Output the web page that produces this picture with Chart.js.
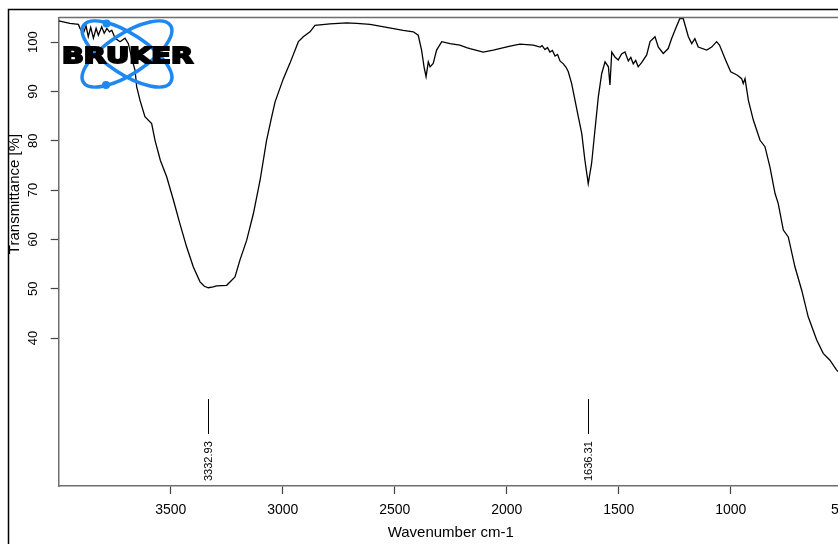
<!DOCTYPE html>
<html>
<head>
<meta charset="utf-8">
<script src="https://cdn.jsdelivr.net/npm/chart.js@4.4.1/dist/chart.umd.min.js"></script>
<style>
  html, body { margin: 0; padding: 0; background: #fff; overflow: hidden; }
  #wrap { width: 880px; height: 544px; }
</style>
</head>
<body>
<div id="wrap"><canvas id="myChart" width="880" height="544"></canvas></div>
<script>
// spectrum
const wavenumbers = [
  4000, 3950, 3912, 3905, 3890, 3878, 3868, 3857, 3845, 3833, 3823, 3808, 3797, 3785, 3773, 3763,
  3748, 3726, 3704, 3689, 3674, 3659, 3652, 3637, 3615, 3585, 3570, 3546, 3518, 3488, 3459, 3429,
  3399, 3369, 3350, 3332, 3310, 3295, 3250, 3213, 3191, 3161, 3131, 3101, 3072, 3049, 3034, 2997,
  2968, 2930, 2908, 2878, 2856, 2789, 2714, 2670, 2610, 2536, 2462, 2417, 2395, 2380, 2369, 2360,
  2350, 2342, 2328, 2313, 2290, 2253, 2209, 2179, 2164, 2105, 2060, 1985, 1941, 1881, 1851, 1842,
  1829, 1818, 1807, 1796, 1784, 1773, 1762, 1747, 1735, 1725, 1710, 1695, 1680, 1665, 1651, 1636,
  1621, 1606, 1591, 1576, 1561, 1546, 1539, 1531, 1517, 1502, 1487, 1472, 1457, 1446, 1435, 1424,
  1413, 1397, 1375, 1360, 1338, 1323, 1301, 1279, 1264, 1249, 1227, 1212, 1189, 1174, 1160, 1145,
  1107, 1085, 1063, 1050, 1022, 1000, 970, 951, 944, 936, 921, 899, 869, 847, 825, 802,
  788, 765, 743, 713, 683, 654, 616, 587, 557, 527, 515
];
const transmittance = [
  104.3, 103.8, 103.6, 102.8, 101.8, 103.3, 101.1, 103.0, 100.8, 102.8, 101.4, 103.1, 101.8, 102.8, 102.1, 102.4,
  100.8, 100.1, 100.8, 99.7, 96.7, 94.3, 91.0, 88.2, 84.9, 83.5, 80.1, 76.0, 72.7, 68.0, 63.2, 58.5,
  54.4, 51.4, 50.5, 50.2, 50.4, 50.6, 50.7, 52.4, 55.8, 59.8, 65.2, 72.0, 80.1, 84.9, 87.9, 92.6,
  95.7, 100.1, 101.1, 102.1, 103.4, 103.7, 103.9, 103.8, 103.6, 103.0, 102.4, 102.1, 101.4, 98.4, 95.0, 93.0,
  96.0, 95.0, 95.7, 98.4, 100.1, 99.7, 99.4, 98.9, 98.7, 98.0, 98.4, 99.2, 99.6, 99.4, 99.0, 99.3,
  98.5, 98.9, 98.0, 98.3, 97.2, 97.5, 96.2, 95.6, 94.9, 94.0, 91.6, 88.2, 84.8, 81.5, 76.1, 71.3,
  75.4, 82.2, 88.9, 93.6, 96.0, 95.0, 91.3, 98.0, 97.0, 96.4, 97.6, 98.0, 96.2, 96.9, 95.6, 96.3,
  95.0, 95.9, 97.4, 100.1, 101.1, 99.0, 97.7, 98.7, 100.7, 102.4, 104.8, 104.8, 101.1, 99.7, 100.7, 99.0,
  98.4, 99.0, 100.1, 99.4, 96.3, 94.0, 93.3, 92.6, 91.6, 92.6, 88.2, 84.2, 80.1, 78.8, 74.7, 69.3,
  67.3, 61.9, 60.5, 54.4, 49.7, 44.3, 39.6, 36.9, 35.5, 33.5, 33.0
];
const xTicks = [3500, 3000, 2500, 2000, 1500, 1000, 500];
const yTicks = [40, 50, 60, 70, 80, 90, 100];
const peakPositions = [3332.93, 1636.31];
const peakLabels = ["3332.93", "1636.31"];

const points = wavenumbers.map((w, i) => ({ x: w, y: transmittance[i] }));
const FONT = "'Liberation Sans', Arial, sans-serif";

// frame, box top, y title, peak marks, logo
const extras = {
  id: 'extras',
  afterDraw(chart) {
    const c = chart.ctx;
    const area = chart.chartArea;
    const xs = chart.scales.x;
    c.save();
    // plot box top line
    c.strokeStyle = '#6e6e6e';
    c.lineWidth = 1.5;
    c.beginPath();
    c.moveTo(area.left, area.top);
    c.lineTo(chart.width, area.top);
    c.stroke();

    // y axis title, clipped by the frame
    c.save();
    c.beginPath();
    c.rect(8, 0, 100, chart.height);
    c.clip();
    c.translate(18.5, 194);
    c.rotate(-Math.PI / 2);
    c.fillStyle = '#000';
    c.font = "15px " + FONT;
    c.textAlign = 'center';
    c.textBaseline = 'alphabetic';
    c.fillText('Transmittance [%]', 0, 0);
    c.restore();

    // outer frame
    c.strokeStyle = '#000';
    c.lineWidth = 1.5;
    c.beginPath();
    c.moveTo(8.5, chart.height);
    c.lineTo(8.5, 9.5);
    c.lineTo(chart.width, 9.5);
    c.stroke();

    // peak marks
    c.strokeStyle = '#000';
    c.lineWidth = 1;
    c.fillStyle = '#000';
    c.font = "11px " + FONT;
    peakPositions.forEach((p, i) => {
      const x = Math.round(xs.getPixelForValue(p)) + 0.5;
      c.beginPath();
      c.moveTo(x, area.bottom - 87);
      c.lineTo(x, area.bottom - 52);
      c.stroke();
      c.save();
      c.translate(x, area.bottom - 5);
      c.rotate(-Math.PI / 2);
      c.textAlign = 'left';
      c.textBaseline = 'middle';
      c.fillText(peakLabels[i], 0, 0);
      c.restore();
    });

    // Bruker logo
    const cx = 127, cy = 54;
    c.strokeStyle = '#1e88f0';
    c.fillStyle = '#1e88f0';
    c.lineWidth = 3.5;
    [0.58, -0.58].forEach(a => {
      c.beginPath();
      c.ellipse(cx, cy, 52, 20, a, 0, Math.PI * 2);
      c.stroke();
    });
    c.beginPath();
    c.arc(106.5, 23.5, 4, 0, Math.PI * 2);
    c.fill();
    c.beginPath();
    c.arc(106, 85, 4, 0, Math.PI * 2);
    c.fill();
    c.font = "bold 22px 'DejaVu Sans', sans-serif";
    c.textBaseline = 'alphabetic';
    c.textAlign = 'left';
    const w = c.measureText('BRUKER').width;
    c.save();
    c.translate(62, 62.5);
    c.scale(131 / w, 1);
    c.fillStyle = '#000';
    c.strokeStyle = '#000';
    c.lineWidth = 2;
    c.fillText('BRUKER', 0, 0);
    c.strokeText('BRUKER', 0, 0);
    c.restore();
    c.restore();
  }
};

var ctx = document.getElementById('myChart');
var chart = new Chart(ctx, {
  type: 'line',
  data: {
    datasets: [{
      data: points,
      borderColor: '#000',
      borderWidth: 1.3,
      pointRadius: 0,
      tension: 0,
      fill: false
    }]
  },
  options: {
    responsive: false,
    animation: false,
    events: [],
    layout: { padding: { left: 0, top: 17.5, right: 37.3, bottom: 0 } },
    plugins: { legend: { display: false }, tooltip: { enabled: false } },
    scales: {
      x: {
        type: 'linear',
        reverse: true,
        min: 500,
        max: 4000,
        afterBuildTicks: s => { s.ticks = xTicks.map(v => ({ value: v })); },
        afterFit: s => { s.height = 58; s.paddingLeft = 0; s.paddingRight = 0; },
        border: { display: true, color: '#6e6e6e', width: 1.5 },
        grid: { drawOnChartArea: false, drawTicks: true, tickLength: 8, tickColor: '#444', tickWidth: 1.2 },
        ticks: { color: '#000', font: { family: FONT, size: 14 }, padding: 8, maxRotation: 0, autoSkip: false,
                 callback: v => String(v) },
        title: { display: true, text: 'Wavenumber cm-1', color: '#000', font: { family: FONT, size: 15 }, padding: { top: 0, bottom: 2 } }
      },
      y: {
        min: 10,
        max: 105,
        afterBuildTicks: s => { s.ticks = yTicks.map(v => ({ value: v })); },
        afterFit: s => { s.width = 58.7; s.paddingTop = 0; s.paddingBottom = 0; },
        border: { display: true, color: '#6e6e6e', width: 1.5 },
        grid: { drawOnChartArea: false, drawTicks: true, tickLength: 8, tickColor: '#444', tickWidth: 1.2 },
        ticks: { color: '#000', font: { family: FONT, size: 13 }, padding: 6, minRotation: 90, maxRotation: 90, crossAlign: 'center', autoSkip: false,
                 callback: v => String(v) }
      }
    }
  },
  plugins: [extras]
});
</script>
</body>
</html>
